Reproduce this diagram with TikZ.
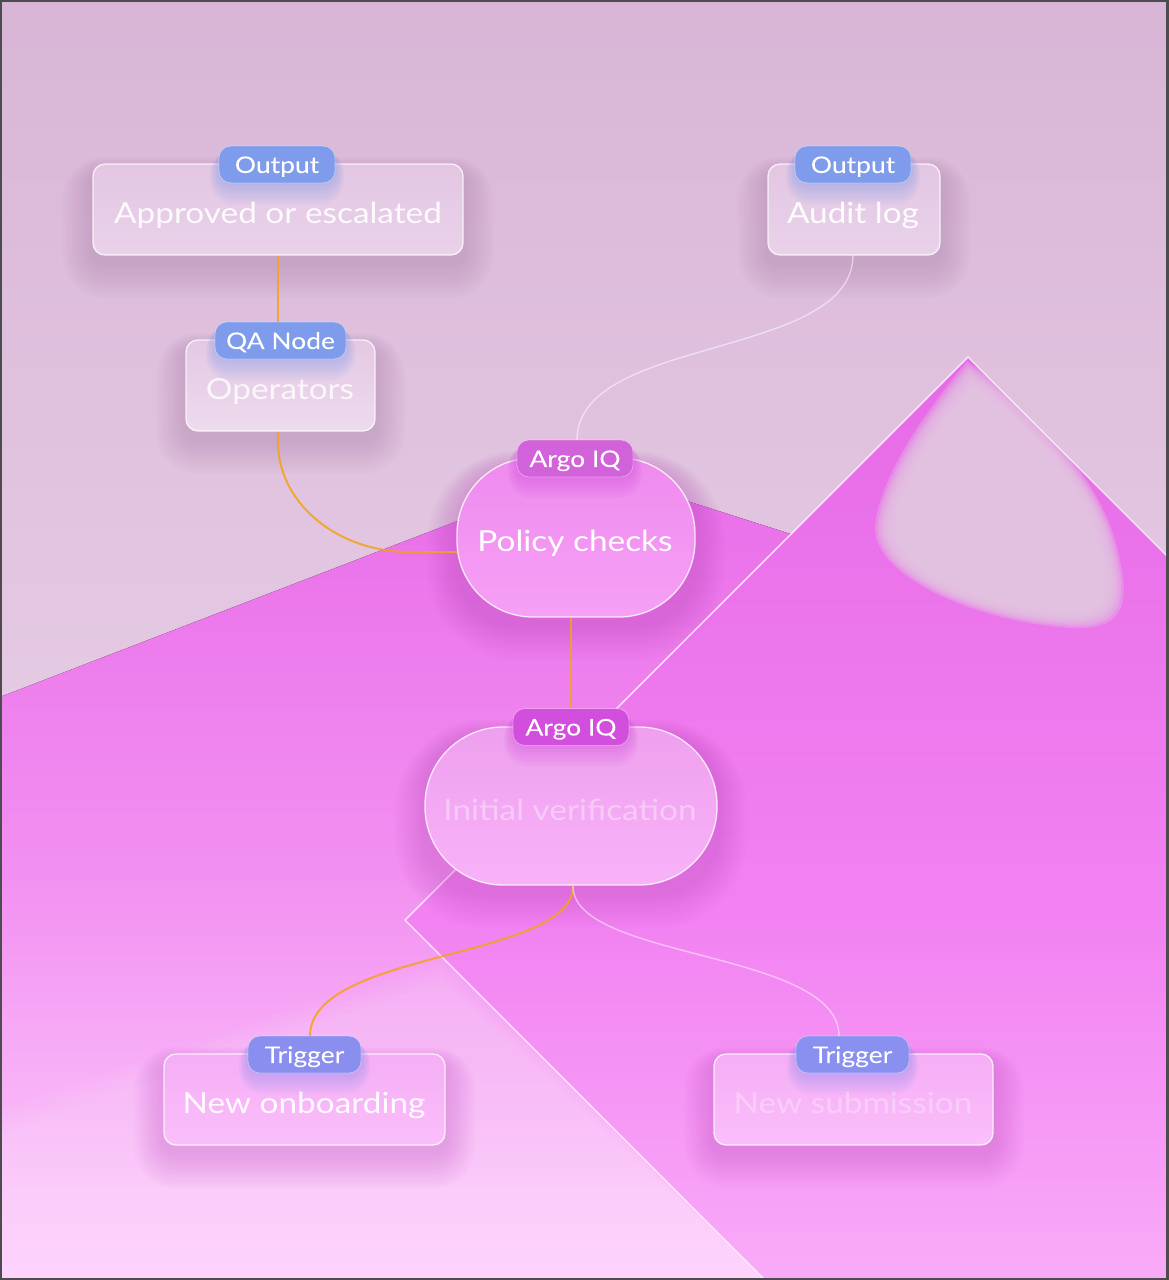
\documentclass[tikz,border=0pt]{standalone}
\usepackage{fontspec}
\setmainfont{Lato}[FakeStretch=1.15]
\newfontfamily\badgefont{Lato}[FakeBold=0.5,FakeStretch=1.15]
\usetikzlibrary{calc}

\definecolor{bgtop}{HTML}{D8B5D6}
\definecolor{bgbot}{HTML}{EFDBEF}
\definecolor{magtop}{HTML}{E96DE9}
\definecolor{magmid}{HTML}{F290F1}
\definecolor{magbot}{HTML}{FDCFFC}
\definecolor{diatop}{HTML}{E66AE6}
\definecolor{diamid}{HTML}{F282F2}
\definecolor{diabot}{HTML}{FCC2FB}
\definecolor{tear}{HTML}{E2C4E0}
\definecolor{wireorange}{HTML}{F2A31B}
\definecolor{outblue}{HTML}{7E9CEB}
\definecolor{argoa}{HTML}{D262D9}
\definecolor{argob}{HTML}{D24FDD}
\definecolor{trig}{HTML}{8A8FEF}
\definecolor{framegray}{HTML}{4D4B4E}
\definecolor{shmauve}{HTML}{9A6E98}
\definecolor{shmag}{HTML}{B848B8}
\definecolor{ctopA}{HTML}{E3C6E2}
\definecolor{cbotA}{HTML}{E9D2EA}
\definecolor{ctopP}{HTML}{EE8BEE}
\definecolor{cbotP}{HTML}{F6A0F6}
\definecolor{ctopI}{HTML}{EEA0EE}
\definecolor{cbotI}{HTML}{F8B2F8}
\definecolor{ctopB}{HTML}{F5AEF5}
\definecolor{cbotB}{HTML}{FBBEFB}

\newcommand\cardshadow[6]{%
  \foreach \i in {1,...,10}{%
    \pgfmathsetmacro\rr{#5+\i*3}%
    \fill[#6, opacity=0.03, rounded corners=\rr pt]
      ({#1-\i*3},{#2-\i*1.5+8}) rectangle ({#3+\i*3},{#4+\i*3.5+8});
  }}
\newcommand\badgeglow[5]{%
  \foreach \i in {1,...,6}{%
    \pgfmathsetmacro\rr{12+\i*2}%
    \fill[#5, opacity=0.08, rounded corners=\rr pt]
      ({#1-\i*1.5},{#2+4}) rectangle ({#3+\i*1.5},{#4+\i*3.5});
  }}

\begin{document}
\begin{tikzpicture}[x=1pt,y=-1pt,
  card/.style={draw=white, draw opacity=0.8, line width=1.3pt, rounded corners=12pt, inner sep=0pt},
  badge/.style={rounded corners=12pt, minimum height=37pt, inner sep=0pt, text=white,
     font=\badgefont\fontsize{23pt}{26pt}\selectfont, text height=17pt, text depth=0pt,
     draw=white, draw opacity=0.35, line width=0.8pt},
  cardtext/.style={anchor=base, inner sep=0pt, text=white, font=\fontsize{29pt}{34pt}\selectfont},
  wire/.style={line width=2pt, wireorange, opacity=0.85},
  ghost/.style={line width=1.4pt, white, opacity=0.5},
]
\useasboundingbox (0,0) rectangle (1168,1280);
\begin{scope}
\clip (0,0) rectangle (1168,1280);
% base background
\fill[top color=bgtop, bottom color=bgbot] (0,0) rectangle (1168,1280);
% magenta field
\fill[top color=magtop, bottom color=magbot, middle color=magmid]
  (0,697) -- (590,470) -- (800,537) -- (1168,700) -- (1168,1280) -- (0,1280) -- cycle;
% lighter wedge bottom-left
\foreach \d in {0,6,...,24}{
  \fill[white, opacity=0.04] (0,{1110+\d}) -- (442,{957+\d}) -- (765,1280) -- (0,1280) -- cycle;}
% diamond
\fill[top color=diatop, bottom color=diabot, middle color=diamid]
  (968,357) -- (1531,920) -- (968,1483) -- (405,920) -- cycle;
\begin{scope}
  \clip (968,357) -- (1531,920) -- (968,1483) -- (405,920) -- cycle;
  \foreach \k in {0,...,7}{
    \fill[tear, opacity=0.35, scale around={1.03-0.022*\k:(1005,525)}]
      (968,366) .. controls (940,400) and (885,470) .. (879,525)
      .. controls (874,575) and (980,620) .. (1070,625)
      .. controls (1130,628) and (1125,590) .. (1112,540)
      .. controls (1095,480) and (1035,415) .. (982,375) -- cycle;}
\end{scope}
\draw[white, opacity=0.85, line width=1.4pt]
  (968,357) -- (1531,920) -- (968,1483) -- (405,920) -- cycle;

% ---- shadows of cards
\cardshadow{93}{164}{463}{255}{12}{shmauve}
\cardshadow{768}{164}{940}{255}{12}{shmauve}
\cardshadow{186}{340}{375}{431}{12}{shmauve}
\cardshadow{457}{458}{695}{617}{60}{shmag}
\cardshadow{425}{727}{717}{885}{60}{shmag}
\cardshadow{164}{1054}{445}{1145}{12}{shmag}
\cardshadow{714}{1054}{993}{1145}{12}{shmag}
\end{scope}

% ---- connectors (behind cards)
\coordinate (opout) at (278,431);
\coordinate (polin) at (457,552);
\coordinate (audout) at (853,255);
\coordinate (polbadgein) at (577,440);
\coordinate (ivout) at (573,886);
\coordinate (onbin) at (310,1036);
\coordinate (subin) at (839,1036);

\draw[wire] (opout) -- (278,442) .. controls (278,503) and (337,552) .. (410,552) -- (polin);
\draw[ghost] (audout) .. controls (853,360) and (577,335) .. (polbadgein);
\draw[wire] (ivout) .. controls (573,960) and (310,950) .. (onbin);
\draw[ghost] (ivout) .. controls (573,960) and (839,950) .. (subin);

% ---- cards
\node[card, minimum width=370pt, minimum height=91pt, top color=ctopA, bottom color=cbotA] (appr) at (278,209.5) {};
\node[card, minimum width=172pt, minimum height=91pt, top color=ctopA, bottom color=cbotA] (aud) at (854,209.5) {};
\node[card, minimum width=189pt, minimum height=91pt, top color=ctopA!85!cbotA, bottom color=cbotA!80!white] (oper) at (280.5,385.5) {};
\node[card, rounded corners=76pt, minimum width=238pt, minimum height=159pt, top color=ctopP, bottom color=cbotP] (pol) at (576,537.5) {};
\node[card, rounded corners=78pt, minimum width=292pt, minimum height=158pt, top color=ctopI, bottom color=cbotI] (iv) at (571,806) {};
\node[card, minimum width=281pt, minimum height=91pt, top color=ctopB, bottom color=cbotB] (onb) at (304.5,1099.5) {};
\node[card, minimum width=279pt, minimum height=91pt, top color=ctopB, bottom color=cbotB] (sub) at (853.5,1099.5) {};

% ---- badge glows
\badgeglow{219}{146}{335}{183}{outblue}
\badgeglow{795}{146}{911}{183}{outblue}
\badgeglow{215}{322}{346}{359}{outblue}
\badgeglow{517}{440}{633}{477}{argob}
\badgeglow{513}{709}{629}{745}{argob}
\badgeglow{248}{1036}{361}{1073}{trig}
\badgeglow{796}{1036}{909}{1073}{trig}

% ---- badges
\node[badge, fill=outblue, minimum width=116pt] (apprb) at (277,164.5) {Output};
\node[badge, fill=outblue, minimum width=116pt] (audb) at (853,164.5) {Output};
\node[badge, fill=outblue, minimum width=131pt] (operb) at (280.5,340.5) {QA Node};
\node[badge, fill=argoa, minimum width=116pt] (polb) at (575,458.5) {Argo IQ};
\node[badge, fill=argob, minimum width=116pt] (ivb) at (571,727) {Argo IQ};
\node[badge, fill=trig, minimum width=113pt] (onbb) at (304.5,1054.5) {Trigger};
\node[badge, fill=trig!92!outblue, minimum width=113pt] (subb) at (852.5,1054.5) {Trigger};

% ---- straight connectors
\draw[wire] (appr.south -| 278,0) -- (278,0 |- operb.north);
\draw[wire] (571,0 |- pol.south) -- (ivb.north -| 571,0);

% ---- texts
\node[cardtext, text opacity=0.9] (apprt) at (278,223) {Approved or escalated};
\node[cardtext, text opacity=0.95] (audt) at (853,223) {Audit log};
\node[cardtext, text opacity=0.8] (opert) at (280,399) {Operators};
\node[cardtext] (polt) at (575,551) {Policy checks};
\node[cardtext, text opacity=0.38] (ivt) at (570,820) {Initial verification};
\node[cardtext, text opacity=0.95] (onbt) at (304,1113) {New onboarding};
\node[cardtext, text opacity=0.3] (subt) at (853,1113) {New submission};

\draw[framegray, line width=4pt] (0,0) rectangle (1168,1280);
\end{tikzpicture}
\end{document}
